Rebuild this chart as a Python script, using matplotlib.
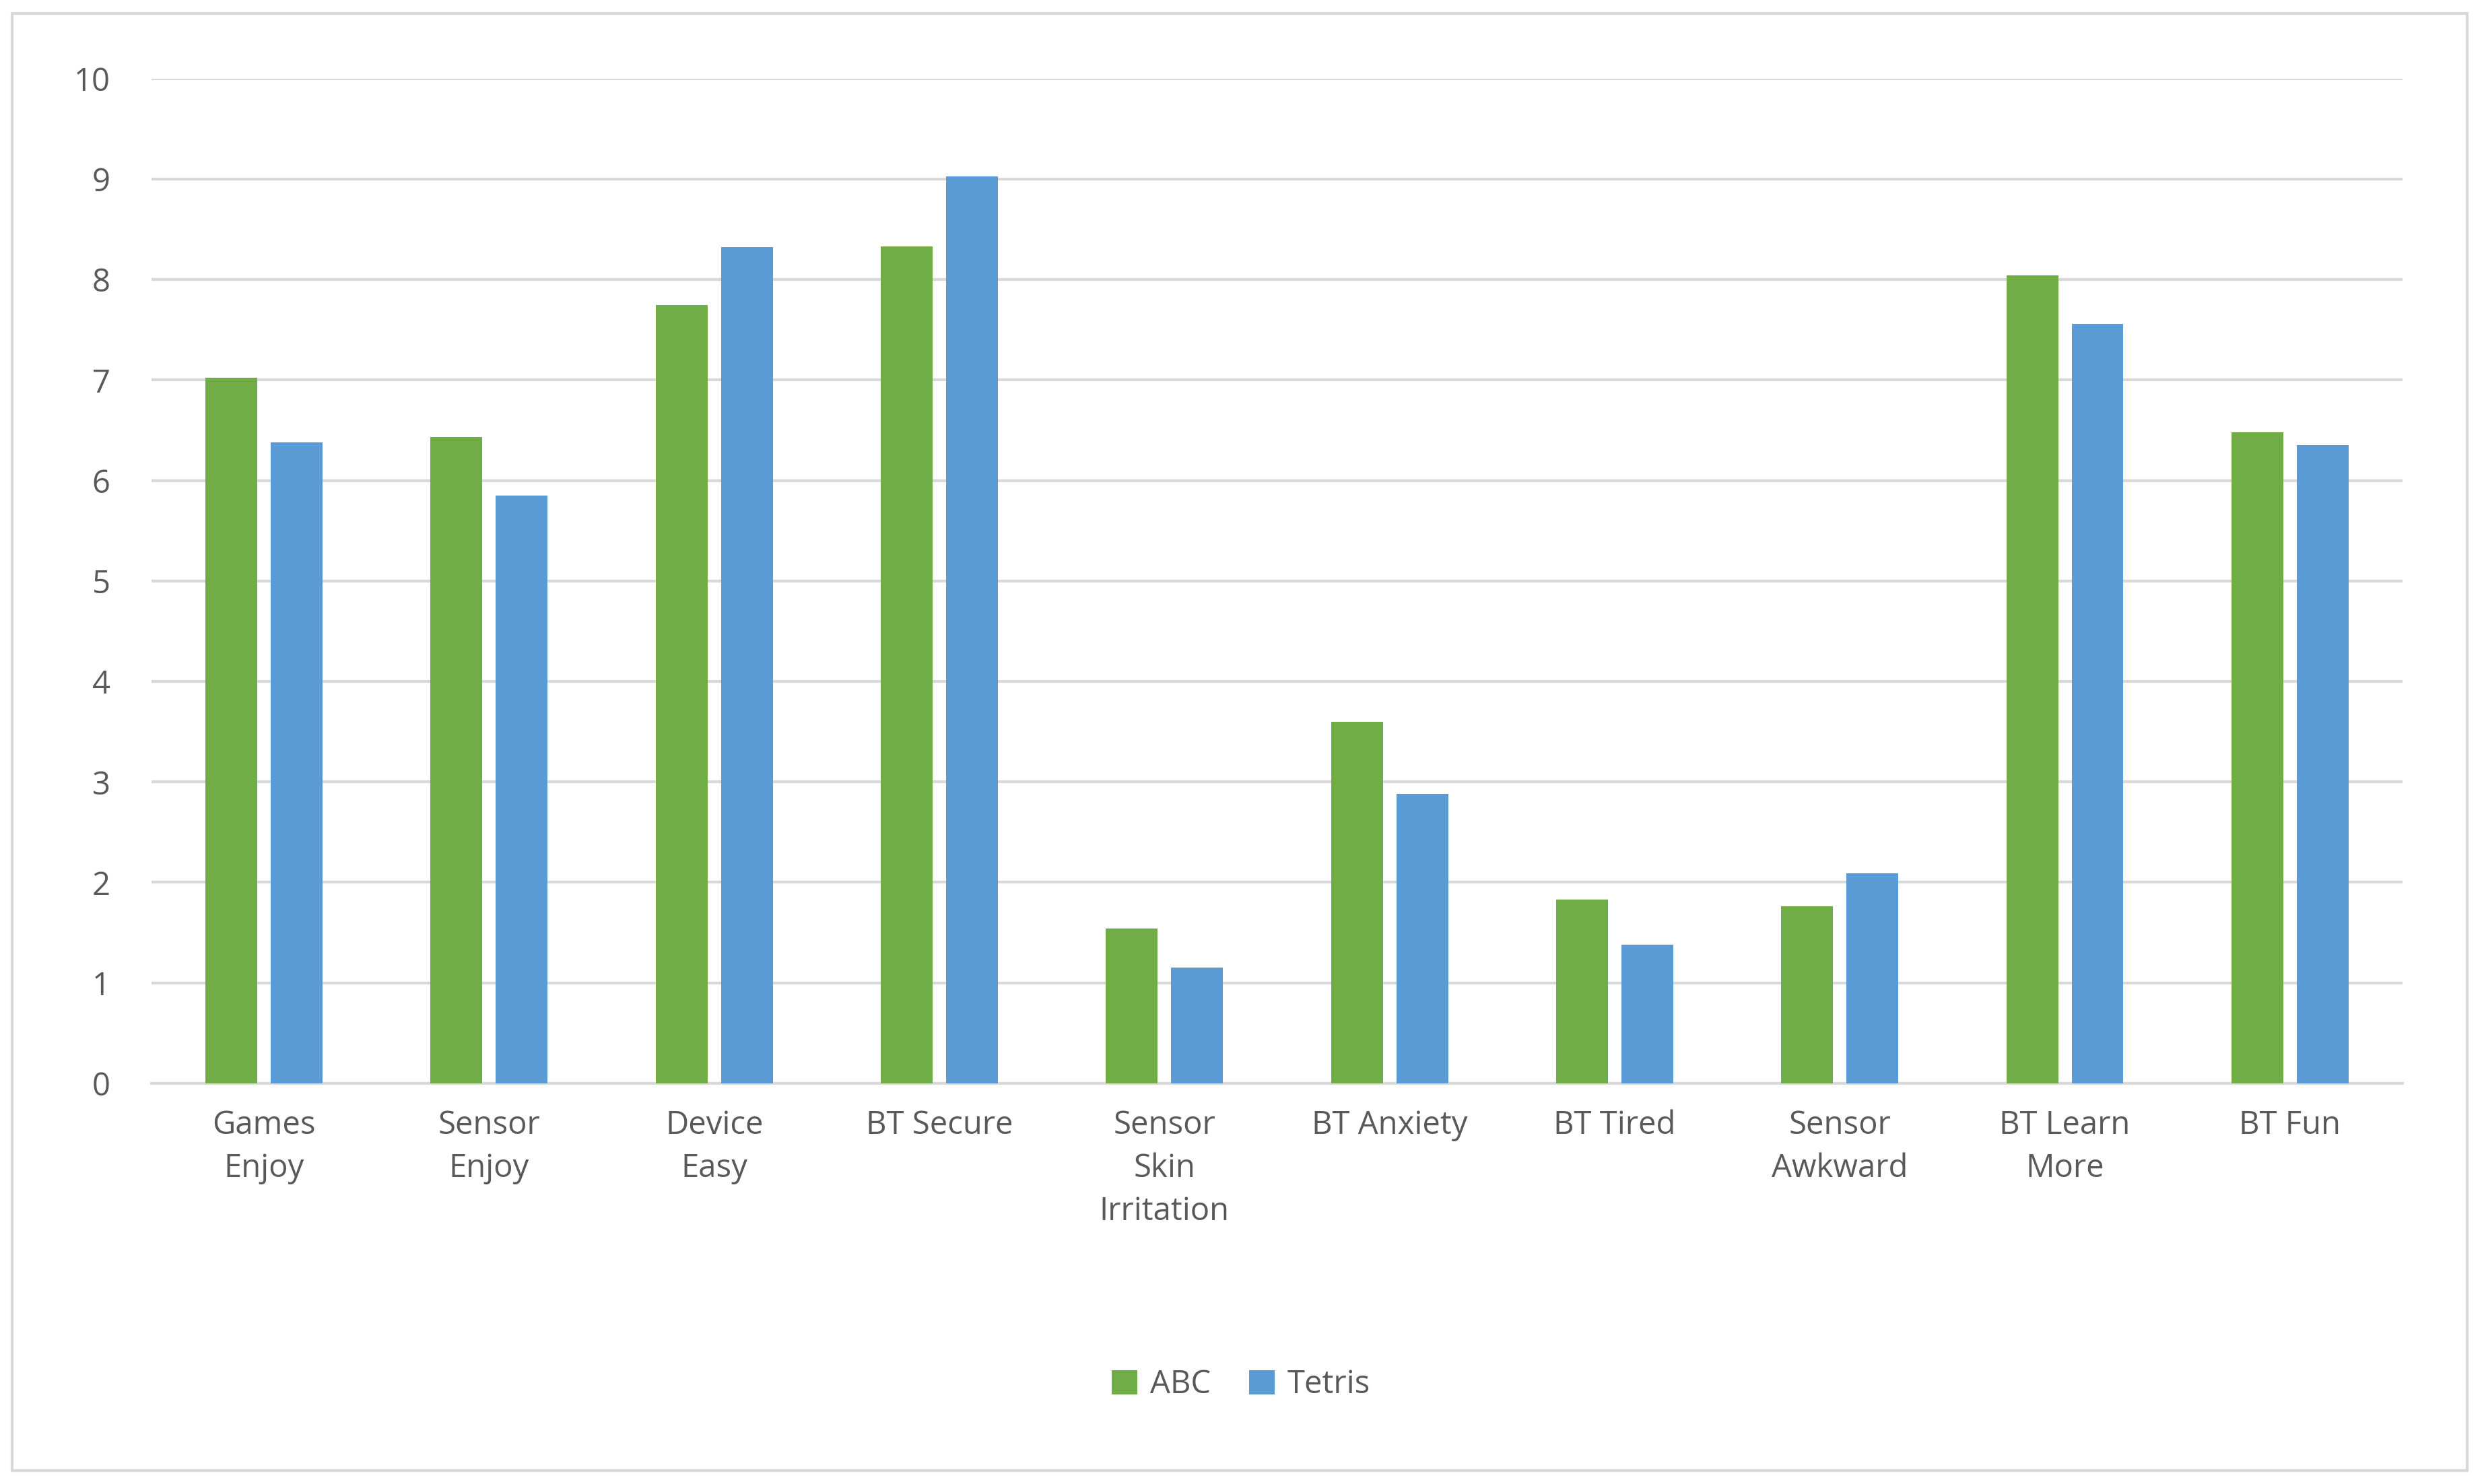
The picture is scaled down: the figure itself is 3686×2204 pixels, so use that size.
import matplotlib
matplotlib.use('Agg')
import matplotlib.pyplot as plt
import numpy as np

categories = ['Games\nEnjoy', 'Sensor\nEnjoy', 'Device\nEasy', 'BT Secure', 'Sensor\nSkin\nIrritation',
              'BT Anxiety', 'BT Tired', 'Sensor\nAwkward', 'BT Learn\nMore', 'BT Fun']
abc = [7.02, 6.43, 7.75, 8.33, 1.54, 3.60, 1.83, 1.76, 8.04, 6.48]
tetris = [6.38, 5.85, 8.32, 9.03, 1.15, 2.88, 1.38, 2.09, 7.56, 6.35]

plt.rcParams['font.family'] = ['Open Sans', 'DejaVu Sans']
fig = plt.figure(figsize=(18.43, 11.02), dpi=200)
ax = fig.add_axes([0.061, 0.270, 0.907, 0.677])

x = np.arange(len(categories))
w = 0.23
ax.bar(x - 0.145, abc, w, color='#70AD47', label='ABC', zorder=3)
ax.bar(x + 0.145, tetris, w, color='#5B9BD5', label='Tetris', zorder=3)

ax.set_xlim(-0.5, len(categories) - 0.5)
ax.set_ylim(0, 10)
ax.set_yticks(range(0, 11))
ax.grid(axis='y', color='#D9D9D9', linewidth=1.5, zorder=0)
for s in ['top', 'right', 'left']:
    ax.spines[s].set_visible(False)
ax.spines['bottom'].set_color('#D9D9D9')
ax.spines['bottom'].set_linewidth(1.5)
ax.set_xticks(x)
ax.set_xticklabels(categories, linespacing=1.45)
ax.tick_params(axis='both', length=0, labelsize=17, labelcolor='#595959')
ax.tick_params(axis='x', pad=14)
ax.tick_params(axis='y', pad=22)

fig.legend(loc='center', bbox_to_anchor=(0.5, 0.067), ncol=2, frameon=False,
           fontsize=17, labelcolor='#595959', handlelength=0.8, handleheight=0.8,
           columnspacing=1.2, handletextpad=0.4)

fig.patches.append(plt.Rectangle((0.005, 0.009), 0.989, 0.982, transform=fig.transFigure,
                                 fill=False, edgecolor='#D9D9D9', linewidth=1.5))
fig.savefig('out.png', dpi=200, facecolor='white')
